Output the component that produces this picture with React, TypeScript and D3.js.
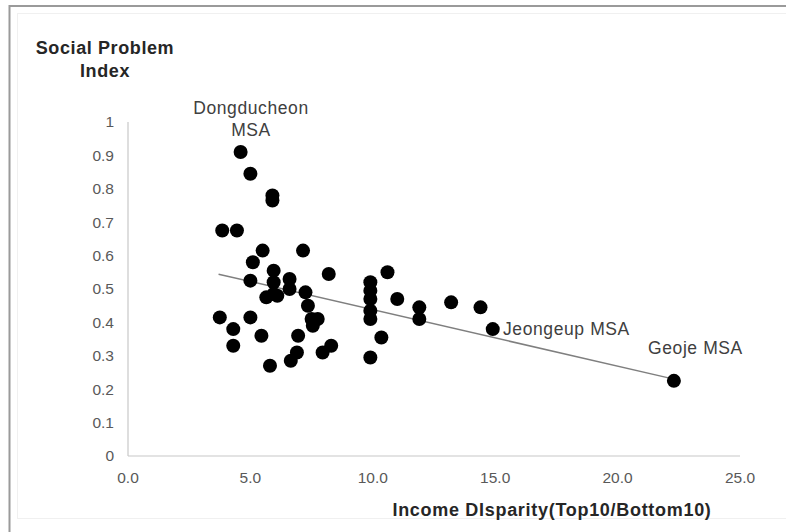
import React from "react";
import * as d3 from "d3";

const disparity = [4.6, 5.0, 5.9, 5.9, 3.85, 4.45, 5.5, 7.15, 5.1, 5.0, 5.95, 5.95, 5.95, 5.65, 6.1, 6.6, 6.6, 8.2, 7.25, 7.35, 7.5, 7.75, 7.55, 3.75, 4.3, 4.3, 5.0, 5.45, 6.95, 6.9, 6.65, 5.8, 7.95, 8.3, 9.9, 9.9, 9.9, 9.9, 9.9, 10.35, 9.9, 10.6, 11.0, 11.9, 11.9, 13.2, 14.4, 14.9, 22.3];
const problemIndex = [0.91, 0.845, 0.78, 0.765, 0.675, 0.675, 0.615, 0.615, 0.58, 0.525, 0.555, 0.52, 0.485, 0.475, 0.48, 0.53, 0.5, 0.545, 0.49, 0.45, 0.41, 0.41, 0.39, 0.415, 0.38, 0.33, 0.415, 0.36, 0.36, 0.31, 0.285, 0.27, 0.31, 0.33, 0.52, 0.495, 0.47, 0.435, 0.41, 0.355, 0.295, 0.55, 0.47, 0.445, 0.41, 0.46, 0.445, 0.38, 0.225];
const xTicks = [0, 5, 10, 15, 20, 25];
const yTicks = [0, 0.1, 0.2, 0.3, 0.4, 0.5, 0.6, 0.7, 0.8, 0.9, 1];
const trendX = [3.7, 22.3];
const trendIntercept = 0.607;
const trendSlope = -0.0169;

export default function App() {
  const x = d3.scaleLinear().domain([0, 25]).range([128, 740]);
  const y = d3.scaleLinear().domain([0, 1]).range([456, 122]);
  const font = "'Liberation Sans', Arial, sans-serif";
  const line = d3.line<number>().x((d) => x(d)).y((d) => y(trendIntercept + trendSlope * d));
  const lbl = { fontSize: 17.5, fill: "#404040", letterSpacing: 0.6 };
  const ttl = { fontSize: 18, fontWeight: "bold", fill: "#262626", letterSpacing: 0.6 };
  return (
    <svg width={786} height={532} style={{ position: "absolute", left: 0, top: 0 }} fontFamily={font}>
      <rect x={0} y={0} width={786} height={532} fill="#fff" />
      <rect x={9.5} y={6} width={790} height={540} fill="none" stroke="#9a9a9a" strokeWidth={2} />
      <rect x={17.5} y={13.5} width={770} height={505} fill="none" stroke="#f0f0f0" strokeWidth={1} />
      <line x1={128} x2={128} y1={122} y2={456} stroke="#c8c8c8" strokeWidth={1.2} />
      <line x1={128} x2={740} y1={456} y2={456} stroke="#c8c8c8" strokeWidth={1.2} />
      {yTicks.map((t) => (
        <text key={t} x={114} y={y(t)} dy="0.35em" textAnchor="end" fontSize={15.5} fill="#595959">
          {String(t)}
        </text>
      ))}
      {xTicks.map((t) => (
        <text key={t} x={x(t)} y={478} dy="0.35em" textAnchor="middle" fontSize={15.5} fill="#595959">
          {t.toFixed(1)}
        </text>
      ))}
      <path d={line(trendX) || ""} stroke="#7f7f7f" strokeWidth={1.5} fill="none" />
      {disparity.map((d, i) => (
        <circle key={i} cx={x(d)} cy={y(problemIndex[i])} r={7} fill="#000" />
      ))}
      <text x={105} y={48} dy="0.35em" textAnchor="middle" {...ttl}>Social Problem</text>
      <text x={105} y={71} dy="0.35em" textAnchor="middle" {...ttl}>Index</text>
      <text x={552} y={510} dy="0.35em" textAnchor="middle" {...ttl} letterSpacing={0.7}>Income DIsparity(Top10/Bottom10)</text>
      <text x={251} y={108} dy="0.35em" textAnchor="middle" {...lbl}>Dongducheon</text>
      <text x={251} y={130} dy="0.35em" textAnchor="middle" {...lbl}>MSA</text>
      <text x={503} y={329} dy="0.35em" textAnchor="start" {...lbl}>Jeongeup MSA</text>
      <text x={648} y={348} dy="0.35em" textAnchor="start" {...lbl}>Geoje MSA</text>
    </svg>
  );
}
